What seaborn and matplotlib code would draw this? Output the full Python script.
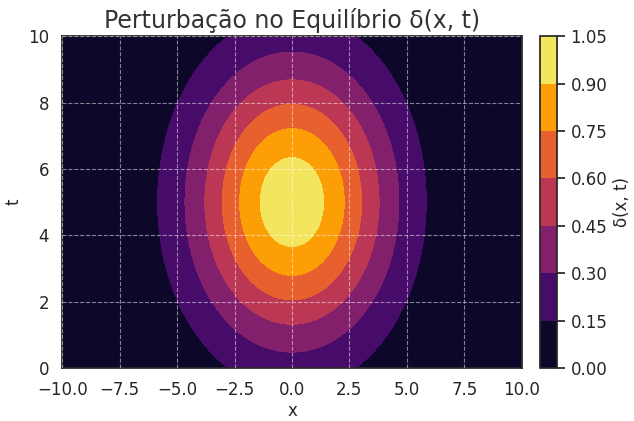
import numpy as np
import seaborn as sns
import matplotlib
matplotlib.use("Agg")
import matplotlib.pyplot as plt

# Gaussian perturbation parameters
x_range = [-10, 10]
t_range = [0, 10]
t_center = 5.0
width_x = 18.0
width_t = 17.0
levels = [0.0, 0.15, 0.30, 0.45, 0.60, 0.75, 0.90, 1.05]

sns.set_theme(style="white")
plt.rcParams['font.family'] = ['DejaVu Sans']

x = np.linspace(x_range[0], x_range[1], 400)
t = np.linspace(t_range[0], t_range[1], 400)
X, T = np.meshgrid(x, t)
delta = np.exp(-(X**2 / width_x + (T - t_center)**2 / width_t))

fig = plt.figure(figsize=(6.34, 4.21), dpi=100)
ax = fig.add_axes([0.098, 0.126, 0.725, 0.788])
cax = fig.add_axes([0.852, 0.126, 0.027, 0.788])
cf = ax.contourf(X, T, delta, levels=levels, cmap="inferno")
cb = fig.colorbar(cf, cax=cax, ticks=levels)
cb.set_label("δ(x, t)", fontsize=12)
cb.ax.tick_params(labelsize=12)

ax.set_axisbelow(False)
ax.grid(True, linestyle="--", color="white", alpha=0.5, linewidth=0.8)
ax.set_title("Perturbação no Equilíbrio δ(x, t)", fontsize=17, color="#333333")
ax.set_xlabel("x", fontsize=12, labelpad=2)
ax.set_ylabel("t", fontsize=12)
ax.tick_params(labelsize=12)
ax.set_xticks(np.arange(-10, 10.1, 2.5))
ax.set_yticks(np.arange(0, 10.1, 2))

fig.savefig("out.png", dpi=100)
